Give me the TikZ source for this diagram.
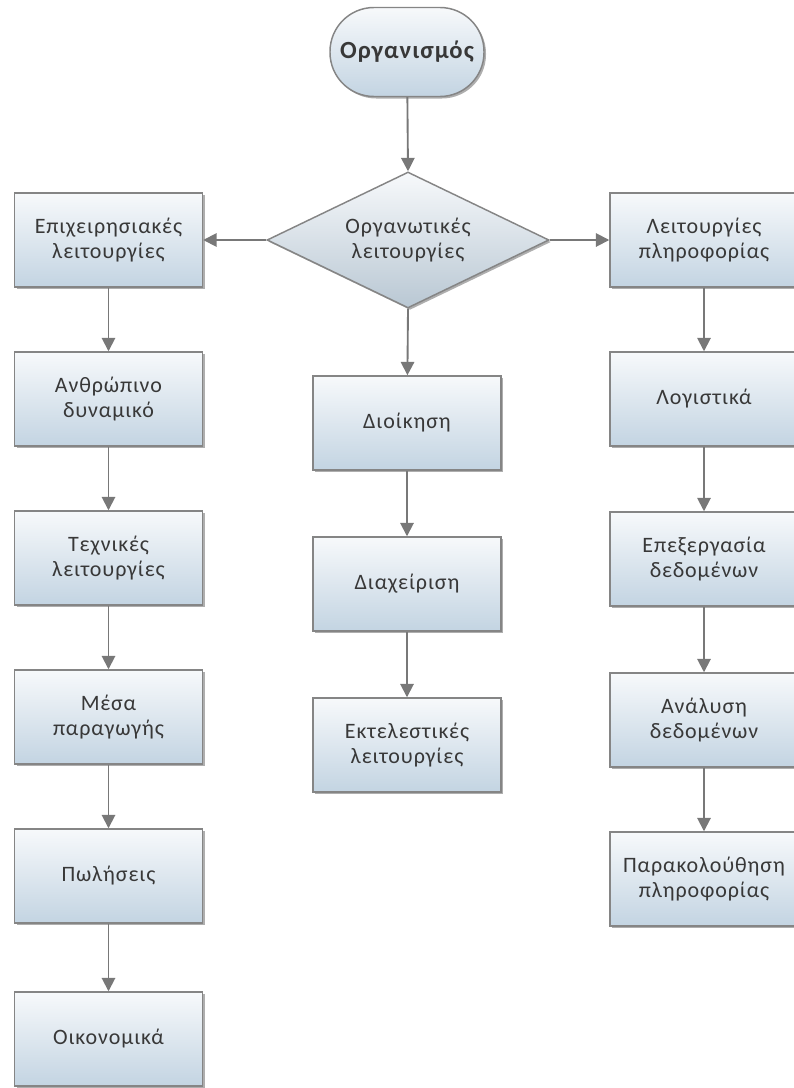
\documentclass[tikz,border=0pt]{standalone}
\usepackage{fontspec}
\setmainfont{Carlito}
\newfontfamily\boxfont[LetterSpace=4]{Carlito}
\usetikzlibrary{arrows.meta,shapes.geometric,shadows}
\definecolor{edgegray}{HTML}{858585}
\definecolor{arrgray}{HTML}{787878}
\definecolor{txtgray}{HTML}{383838}
\definecolor{boxtop}{HTML}{F7F9FB}
\definecolor{boxbot}{HTML}{C3D4E2}
\tikzset{
  base/.style={draw=edgegray, line width=1.1pt, text=txtgray, align=center,
    font=\boxfont\fontsize{16.5}{19}\selectfont, top color=boxtop, bottom color=boxbot,
    drop shadow={shadow xshift=1.5pt, shadow yshift=-1.5pt, opacity=0.45, fill=black!70}},
  procbox/.style={base, rectangle, minimum width=141pt, minimum height=70.5pt, inner sep=2pt},
  pill/.style={base, rectangle, rounded corners=33pt, minimum width=115.5pt, minimum height=66.75pt,
    font=\boxfont\fontsize{18.5}{20}\selectfont\bfseries},
  decision/.style={base, diamond, minimum width=211.5pt, minimum height=102pt, inner sep=0pt,
    bottom color=boxbot!85!gray},
  label/.style={text=txtgray, align=center, font=\boxfont\fontsize{16.5}{19}\selectfont},
  conn/.style={draw=arrgray, line width=1.4pt, -{Triangle[length=10pt,width=10pt]}}
}
\begin{document}
\begin{tikzpicture}[x=0.75pt,y=-0.75pt]
\useasboundingbox (0,0) rectangle (793,1088);
\node[pill] (org) at (407,52) {Οργανισμός};
\node[decision] (dia) at (408,240) {};
\node[label] (diatext) at (dia.center) {Οργανωτικές\\λειτουργίες};

\node[procbox] (l1) at (108.5,240) {Επιχειρησιακές\\λειτουργίες};
\node[procbox] (l2) at (108.5,399) {Ανθρώπινο\\δυναμικό};
\node[procbox] (l3) at (108.5,558) {Τεχνικές\\λειτουργίες};
\node[procbox] (l4) at (108.5,717) {Μέσα\\παραγωγής};
\node[procbox] (l5) at (108.5,876) {Πωλήσεις};
\node[procbox] (l6) at (108.5,1039) {Οικονομικά};

\node[procbox] (m1) at (407,423) {Διοίκηση};
\node[procbox] (m2) at (407,584) {Διαχείριση};
\node[procbox] (m3) at (407,745) {Εκτελεστικές\\λειτουργίες};

\node[procbox] (r1) at (704,240) {Λειτουργίες\\πληροφορίας};
\node[procbox] (r2) at (704,399) {Λογιστικά};
\node[procbox] (r3) at (704,559) {Επεξεργασία\\δεδομένων};
\node[procbox] (r4) at (704,720) {Ανάλυση\\δεδομένων};
\node[procbox] (r5) at (704,879) {Παρακολούθηση\\πληροφορίας};

\draw[conn] (org) -- (dia.north);
\draw[conn] (dia.west) -- (l1.east);
\draw[conn] (dia.east) -- (r1.west);
\draw[conn] (dia.south) -- (m1);
\draw[conn] (l1) -- (l2);
\draw[conn] (l2) -- (l3);
\draw[conn] (l3) -- (l4);
\draw[conn] (l4) -- (l5);
\draw[conn] (l5) -- (l6);
\draw[conn] (m1) -- (m2);
\draw[conn] (m2) -- (m3);
\draw[conn] (r1) -- (r2);
\draw[conn] (r2) -- (r3);
\draw[conn] (r3) -- (r4);
\draw[conn] (r4) -- (r5);
\end{tikzpicture}
\end{document}
